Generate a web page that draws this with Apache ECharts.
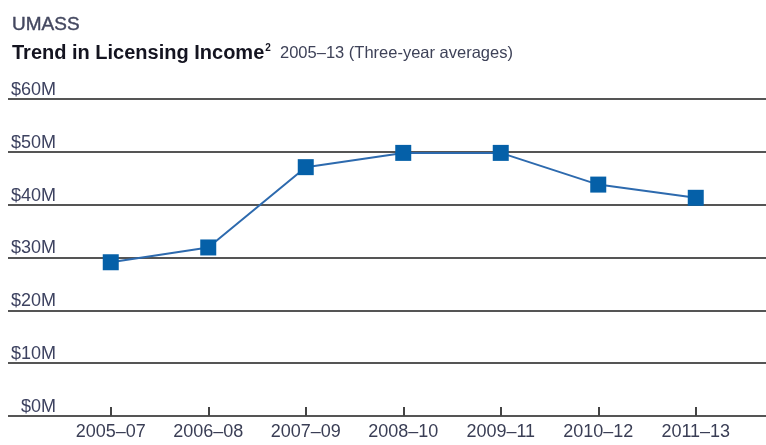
<!DOCTYPE html>
<html>
<head>
<meta charset="utf-8">
<script src="https://cdn.jsdelivr.net/npm/echarts@6/dist/echarts.min.js"></script>
<style>
html,body{margin:0;padding:0;background:#fff;}
#chart{width:766px;height:445px;}
</style>
</head>
<body>
<div id="chart"></div>
<script>
const categories = ['2005–07', '2006–08', '2007–09', '2008–10', '2009–11', '2010–12', '2011–13'];
const licensingIncome = [29.1, 31.9, 47.1, 49.8, 49.8, 43.8, 41.3];
const yMin = 0, yMax = 60, yStep = 10;

const REG = "'Liberation Sans', Arial, sans-serif";
const gridTop = 99, gridBottom = 29;

const chart = echarts.init(document.getElementById('chart'), null, {renderer: 'canvas'});
chart.setOption({
  animation: false,
  backgroundColor: '#fff',
  title: [
    {
      text: 'UMASS', left: 7, top: 10,
      textStyle: {fontFamily: REG, fontSize: 19, fontWeight: 'normal', color: '#43475f', textBorderColor: '#43475f', textBorderWidth: 0.4}
    },
    {
      text: '{a|Trend in Licensing Income}{s|2}{b|  2005–13 (Three-year averages)}',
      left: 7, top: 38,
      textStyle: {
        rich: {
          a: {fontFamily: REG, fontSize: 20, fontWeight: 'bold', color: '#141420'},
          s: {fontFamily: REG, fontSize: 10, fontWeight: 'bold', color: '#141420', padding: [0, 0, 10, 1]},
          b: {fontFamily: REG, fontSize: 16.5, fontWeight: 'normal', color: '#3e4258'}
        }
      }
    }
  ],
  grid: [
    {left: 8, right: 0, top: gridTop, bottom: gridBottom},
    {left: 62, right: 21.5, top: gridTop, bottom: gridBottom}
  ],
  xAxis: [
    {gridIndex: 0, type: 'value', show: false, min: 0, max: 1},
    {
      gridIndex: 1, type: 'category', data: categories, boundaryGap: true,
      axisLine: {show: false},
      axisTick: {show: true, inside: true, alignWithLabel: true, interval: 0, length: 9, lineStyle: {color: '#444', width: 2}},
      axisLabel: {interval: 0, fontFamily: REG, fontSize: 18, color: '#3a3e55', margin: 7}
    }
  ],
  yAxis: [
    {
      gridIndex: 0, type: 'value', min: yMin, max: yMax, interval: yStep,
      position: 'left', offset: -49,
      axisLine: {show: false}, axisTick: {show: false},
      splitLine: {show: true, lineStyle: {color: '#555', width: 2}},
      axisLabel: {
        inside: false, margin: 1, align: 'right', verticalAlign: 'bottom',
        padding: [0, 0, 0, 0],
        fontFamily: REG, fontSize: 18, color: '#3d4260',
        formatter: v => '$' + v + 'M'
      }
    },
    {gridIndex: 1, type: 'value', min: yMin, max: yMax, interval: yStep, show: false}
  ],
  series: [{
    type: 'line', xAxisIndex: 1, yAxisIndex: 1,
    data: licensingIncome,
    symbol: 'rect', symbolSize: 16,
    itemStyle: {color: '#0560a8'},
    lineStyle: {color: '#2d6aae', width: 2}
  }]
});
</script>
</body>
</html>
